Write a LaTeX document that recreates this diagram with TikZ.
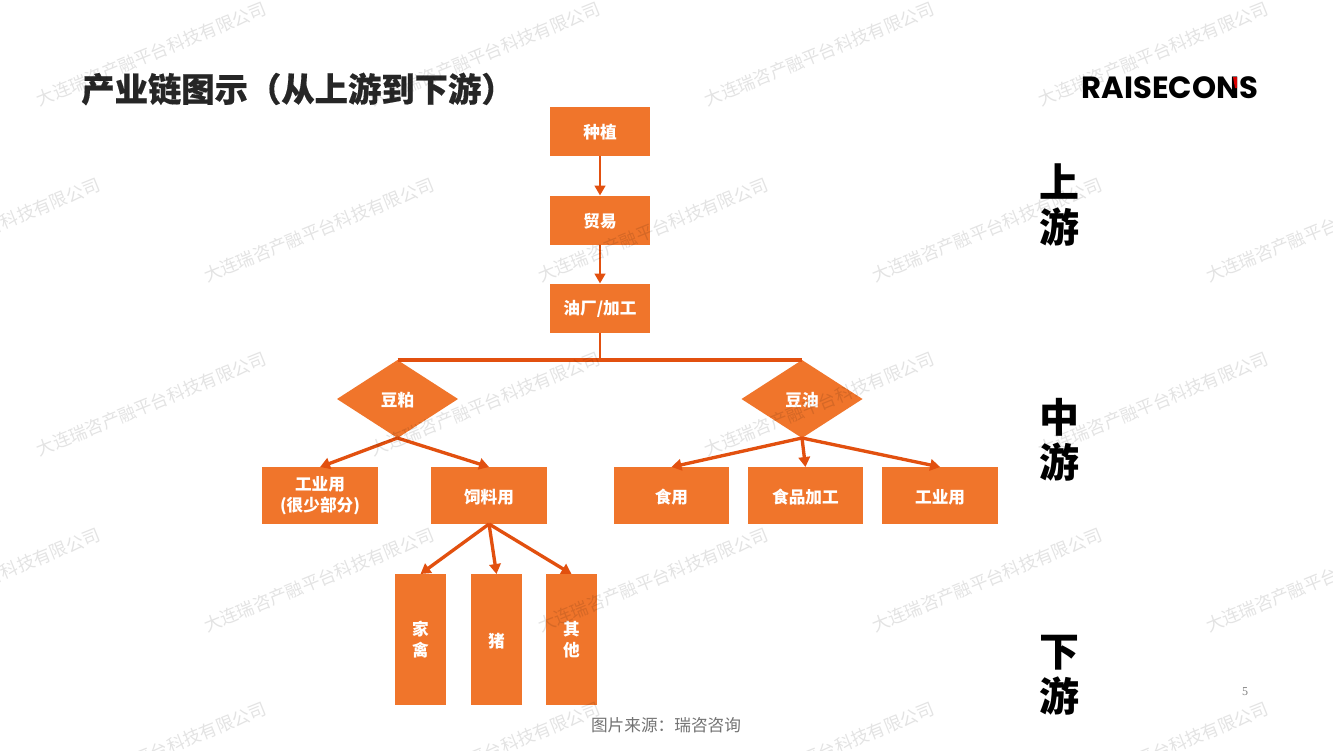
\documentclass[tikz,border=0pt]{standalone}
\usepackage{fontspec}
\setmainfont{Noto Sans CJK SC}
\newfontfamily\heavyfont[BoldFeatures={FakeBold=0.4}]{Noto Sans CJK SC}
\newfontfamily\logofont{Poppins}
\newfontfamily\pagefont{Liberation Serif}
\usepackage{xcolor}
\usetikzlibrary{positioning, arrows.meta, shapes.geometric}
\definecolor{boxOrange}{HTML}{F0752B}
\definecolor{lineOrange}{HTML}{E2500F}
\tikzset{
    box/.style={rectangle, fill=boxOrange, text=white, outer sep=0pt, inner sep=0pt, align=center, font=\fontsize{12.5}{15.5}\selectfont\bfseries},
    chainBox/.style={box, minimum width=75pt, minimum height=36.75pt, text height=12.5pt},
    useBox/.style={box, minimum width=86.5pt, minimum height=42.75pt},
    tallBox/.style={box, minimum width=38.25pt, minimum height=98.25pt},
    product/.style={box, diamond, minimum width=90.75pt, minimum height=58.5pt, text height=12.5pt},
    stage/.style={align=center, font=\fontsize{30}{33.75}\selectfont\bfseries},
    arrow/.style={-{Triangle[length=7.5pt, width=8pt]}, line width=2pt, draw=lineOrange},
    branch/.style={-{Triangle[length=7.5pt, width=8.5pt]}, line width=2.5pt, draw=lineOrange},
    bar/.style={line width=2.6pt, draw=lineOrange},
    stamp/.style={rotate=22, text=black, opacity=0.11, font=\fontsize{13.2}{15}\selectfont}
}
\begin{document}
\begin{tikzpicture}[x=0.75pt, y=-0.75pt]
        \path[use as bounding box, clip] (0,0) rectangle (1333,750);
        \fill[white] (0,0) rectangle (1333,750);

        % Title and logo
        \node[font=\heavyfont\fontsize{25}{28}\selectfont\bfseries, text=black!85] (Title) at (298,89) {产业链图示（从上游到下游）};
        \node[font=\logofont\fontsize{23}{28}\selectfont\bfseries, inner sep=0pt] (Logo) at (1170,87.5) {RAISECONS};
        \fill[red!85!black] (1233,77) -- (1237,77) -- (1237,88) -- (1235,88) -- cycle;

        % Chain
        \node[chainBox] (Plant) at (600,131) {种植};
        \node[chainBox, below=30pt of Plant] (Trade) {贸易};
        \node[chainBox, below=29.25pt of Trade] (Mill) {油厂/加工};

        % Products
        \node[product] (Meal) at (397.5,399) {豆粕};
        \node[product] (Oil) at (802,399) {豆油};

        % Uses
        \node[useBox, below=21.75pt of Meal, xshift=-58.1pt] (MealInd) {工业用\\(很少部分)};
        \node[useBox, right=40.25pt of MealInd, text height=12.5pt] (Feed) {饲料用};
        \node[useBox, below=21.75pt of Oil, xshift=-97.9pt, text height=12.5pt] (Food) {食用};
        \node[useBox, right=14pt of Food, text height=12.5pt] (Process) {食品加工};
        \node[useBox, right=14.5pt of Process, text height=12.5pt] (OilInd) {工业用};

        % Feed targets
        \node[tallBox, below=37.5pt of Feed, xshift=-51.4pt] (Poultry) {家\\禽};
        \node[tallBox, right=18.75pt of Poultry, text height=12.5pt] (Pig) {猪};
        \node[tallBox, right=18pt of Pig] (Other) {其\\他};

        % Edges
        \draw[arrow] (Plant) -- (Trade);
        \draw[arrow] (Trade) -- (Mill);
        \draw[line width=2pt, draw=lineOrange] (Mill.south) -- (Mill.south |- Meal.north);
        \draw[bar] (Meal.north) -- (Oil.north);
        \draw[branch] (Meal.south) -- (MealInd.north);
        \draw[branch] (Meal.south) -- (Feed.north);
        \draw[branch] (Oil.south) -- (Food.north);
        \draw[branch] (Oil.south) -- (Process.north);
        \draw[branch] (Oil.south) -- (OilInd.north);
        \draw[branch] (Feed.south) -- (Poultry.north);
        \draw[branch] (Feed.south) -- (Pig.north);
        \draw[branch] (Feed.south) -- (Other.north);

        % Stages
        \node[stage] (Up) at (1059,205) {上\\游};
        \node[stage] (Mid) at (1059,440) {中\\游};
        \node[stage] (Down) at (1059,675) {下\\游};

        % Footer
        \node[text=black!55, font=\fontsize{12.5}{14}\selectfont] (Source) at (666,725) {图片来源：瑞咨咨询};
        \node[text=black!50, font=\pagefont\fontsize{9}{11}\selectfont] (Page) at (1245,692) {5};

        % Watermark
        \foreach \rowy in {54,404,754}
            \foreach \col in {0,...,3}
                \node[stamp] (MarkA\rowy\col) at ({151.5+334*\col},\rowy) {大连瑞咨产融平台科技有限公司};
        \foreach \rowy in {230,580}
            \foreach \col in {0,...,4}
                \node[stamp] (MarkB\rowy\col) at ({-15+334*\col},\rowy) {大连瑞咨产融平台科技有限公司};
    \end{tikzpicture}
\end{document}
